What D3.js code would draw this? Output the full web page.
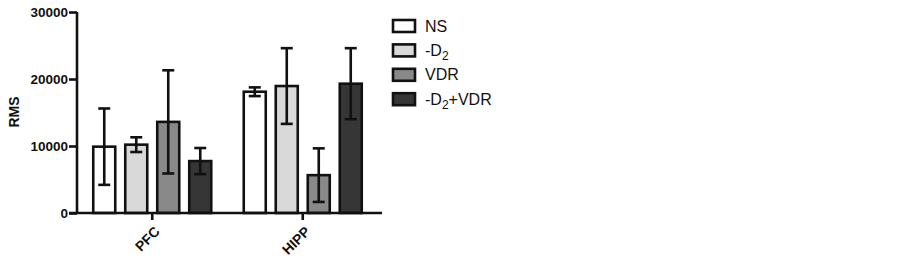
<!DOCTYPE html>
<html>
<head>
<meta charset="utf-8">
<script src="https://cdn.jsdelivr.net/npm/d3@7"></script>
<style>
  body { margin: 0; background: #fff; }
  svg { font-family: "Liberation Sans", Arial, sans-serif; }
</style>
</head>
<body>
<svg width="902" height="264"></svg>
<script>
// data
var regions = ["PFC", "HIPP"];
var groups = ["NS", "-D2", "VDR", "-D2+VDR"];
var means = {
    PFC: [9900, 10200, 13600, 7750],
    HIPP: [18100, 18950, 5650, 19300]
};
var errs = {
    PFC: [5700, 1100, 7700, 1950],
    HIPP: [650, 5650, 4000, 5300]
};
var yTicks = [0, 10000, 20000, 30000];
var fills = ["#ffffff", "#d9d9d9", "#898989", "#363636"];

var svg = d3.select("svg"),
    margin = { top: 12, left: 77 },
    width = 305,
    height = 201,
    g = svg.append("g").attr("transform", "translate(" + margin.left + "," + margin.top + ")");

var x0 = d3.scaleBand().domain(regions).range([0, 301])
    .paddingInner(0.216).paddingOuter(0.108);
var x1 = d3.scaleBand().domain(groups).range([0, x0.bandwidth()])
    .paddingInner(0.3125).paddingOuter(0);
var y = d3.scaleLinear().domain([0, 30000]).range([height, 0]);
var color = d3.scaleOrdinal().domain(groups).range(fills);

var rows = [];
regions.forEach(function (r) {
    groups.forEach(function (s, i) {
        rows.push({ region: r, group: s, value: means[r][i], err: errs[r][i] });
    });
});

// bars
g.selectAll(".bar")
    .data(rows)
    .enter().append("rect")
    .attr("class", "bar")
    .attr("x", function (d) { return x0(d.region) + x1(d.group); })
    .attr("y", function (d) { return y(d.value); })
    .attr("width", x1.bandwidth())
    .attr("height", function (d) { return height - y(d.value); })
    .attr("fill", function (d) { return color(d.group); })
    .attr("stroke", "#111")
    .attr("stroke-width", 2.6);

// error bars
var eb = g.selectAll(".err")
    .data(rows)
    .enter().append("g")
    .attr("class", "err")
    .attr("transform", function (d) {
        return "translate(" + (x0(d.region) + x1(d.group) + x1.bandwidth() / 2) + ",0)";
    })
    .attr("stroke", "#111")
    .attr("stroke-width", 2.6);

eb.append("line")
    .attr("y1", function (d) { return y(d.value + d.err); })
    .attr("y2", function (d) { return y(d.value - d.err); });
eb.append("line")
    .attr("x1", -6).attr("x2", 6)
    .attr("y1", function (d) { return y(d.value + d.err); })
    .attr("y2", function (d) { return y(d.value + d.err); });
eb.append("line")
    .attr("x1", -6).attr("x2", 6)
    .attr("y1", function (d) { return y(d.value - d.err); })
    .attr("y2", function (d) { return y(d.value - d.err); });

// y axis
var yAxis = g.append("g")
    .call(d3.axisLeft(y).tickValues(yTicks).tickSize(8).tickPadding(1).tickFormat(d3.format("d")));
yAxis.select(".domain").attr("stroke", "#111").attr("stroke-width", 2.6)
    .attr("d", "M0," + (height + 1) + "V0");
yAxis.selectAll(".tick line").attr("stroke", "#111").attr("stroke-width", 2.6);
yAxis.selectAll(".tick text")
    .attr("fill", "#111")
    .style("font-size", "13.5px")
    .style("font-weight", "bold");

// x axis
var xAxis = g.append("g")
    .attr("transform", "translate(0," + height + ")")
    .call(d3.axisBottom(x0).tickSize(7).tickSizeOuter(0));
xAxis.select(".domain").attr("stroke", "#111").attr("stroke-width", 2.6)
    .attr("d", "M-8,0H" + width);
xAxis.selectAll(".tick line").attr("stroke", "#111").attr("stroke-width", 2.6);
xAxis.selectAll(".tick text")
    .attr("fill", "#111")
    .style("font-size", "14px")
    .style("font-weight", "bold")
    .attr("text-anchor", "end")
    .attr("transform", "translate(5,16) rotate(-45)")
    .attr("dy", "0.35em")
    .attr("x", 0)
    .attr("y", 0);

// y label
svg.append("text")
    .attr("transform", "translate(19," + (margin.top + 100) + ") rotate(-90)")
    .attr("text-anchor", "middle")
    .attr("fill", "#111")
    .style("font-size", "14px")
    .style("font-weight", "bold")
    .text("RMS");

// legend
var legend = svg.append("g")
    .attr("transform", "translate(393,20)");
var item = legend.selectAll(".item")
    .data(groups)
    .enter().append("g")
    .attr("class", "item")
    .attr("transform", function (d, i) { return "translate(0," + (i * 24.4) + ")"; });
item.append("rect")
    .attr("width", 22)
    .attr("height", 12)
    .attr("fill", function (d) { return color(d); })
    .attr("stroke", "#111")
    .attr("stroke-width", 2.6);
var lt = item.append("text")
    .attr("x", 32)
    .attr("y", 6)
    .attr("dy", "0.35em")
    .attr("fill", "#111")
    .style("font-size", "16px");
lt.each(function (d) {
    var t = d3.select(this);
    var parts = d.split("D2");
    if (parts.length === 1) { t.text(d); return; }
    t.append("tspan").text(parts[0] + "D");
    t.append("tspan").attr("dy", "4").style("font-size", "12px").text("2");
    t.append("tspan").attr("dy", "-4").text(parts[1]);
});
</script>
</body>
</html>
